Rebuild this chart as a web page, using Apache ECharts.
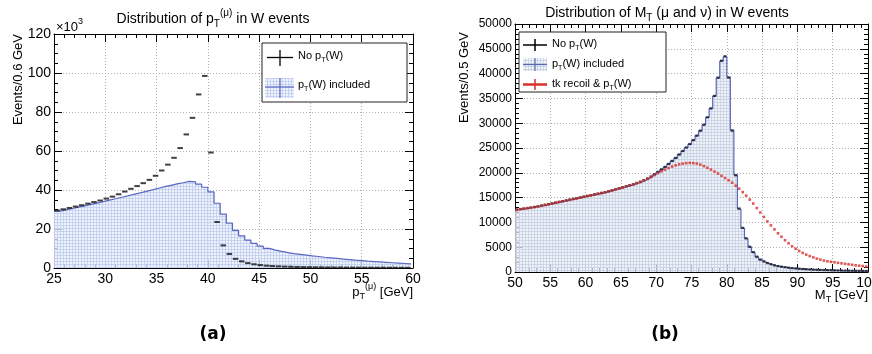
<!DOCTYPE html>
<html><head><meta charset="utf-8">
<script src="https://cdn.jsdelivr.net/npm/echarts@6/dist/echarts.min.js"></script>
<style>html,body{margin:0;padding:0;background:#fff}#c{width:872px;height:354px}</style>
</head><body><div id="c"></div>
<script>
// ---------- DATA ----------
// Panel (a): pT(mu), 0.6 GeV bins starting at 25 GeV, values in units of 10^3 events
const ptBinStart = 25, ptBinWidth = 0.6;
const ptNoW = [29.5,30.1,30.8,31.5,32.2,33.0,33.8,34.6,35.6,36.6,
  37.8,39.2,40.6,42.0,43.5,45.2,47.3,50.0,53.0,56.5,
  61.5,68.5,77.0,89.0,98.5,59.2,23.6,11.6,7.2,4.7,
  3.4,2.5,1.9,1.5,1.2,1.0,0.85,0.72,0.62,0.54,
  0.47,0.41,0.37,0.33,0.30,0.27,0.25,0.23,0.21,0.19,
  0.18,0.17,0.16,0.15,0.14,0.13,0.12,0.11];
const ptIncluded = [29.2,29.8,30.5,31.2,31.9,32.6,33.3,34.0,34.8,35.5,
  36.3,37.0,37.8,38.5,39.3,40.1,40.9,41.7,42.4,43.1,
  43.7,44.4,44.2,43.0,41.4,39.0,33.2,27.6,23.0,19.3,
  16.5,14.3,12.6,11.2,10.1,9.2,8.5,7.9,7.4,7.0,
  6.6,6.2,5.9,5.5,5.2,4.9,4.6,4.3,4.0,3.8,
  3.5,3.3,3.1,2.9,2.7,2.5,2.3,2.1];
const ptXTicks = [25,30,35,40,45,50,55,60];
const ptYTicks = [0,20,40,60,80,100,120];

// Panel (b): M_T, 0.5 GeV bins starting at 50 GeV
const mtBinStart = 50, mtBinWidth = 0.5;
const mtNoW = [12600,12700,12800,12900,13000,13100,13250,13400,13550,13700,
  13850,14000,14150,14300,14450,14600,14750,14900,15050,15200,
  15350,15500,15650,15800,15950,16100,16300,16500,16700,16900,
  17100,17300,17500,17700,17950,18200,18500,18850,19250,19700,
  20200,20700,21200,21800,22400,23000,23700,24400,25100,25800,
  26600,27500,28500,29700,31200,33000,35500,39200,42600,43500,
  39200,28500,19500,12800,8900,6800,5100,4000,3100,2500,
  2100,1800,1550,1350,1200,1070,960,870,790,720,
  660,610,560,520,480,450,420,390,370,350,
  330,310,295,280,265,250,240,230,220,210];
const mtIncluded = [12550,12650,12750,12850,12950,13100,13200,13350,13500,13650,
  13800,13950,14100,14250,14400,14550,14700,14850,15000,15150,
  15300,15450,15600,15750,15900,16050,16250,16450,16650,16850,
  17050,17250,17450,17650,17900,18150,18450,18800,19200,19650,
  20150,20650,21150,21750,22350,22950,23650,24350,25050,25750,
  26550,27450,28450,29650,31150,32950,35450,39100,42500,43400,
  39300,28600,19600,12700,8800,6700,5000,3950,3050,2450,
  2050,1750,1500,1300,1150,1030,930,840,760,700,
  640,590,540,500,465,435,405,380,360,340,
  320,300,285,270,255,245,235,225,215,205];
const mtTkRecoil = [12500,12650,12750,12850,12950,13100,13200,13350,13500,13650,
  13800,13950,14100,14250,14400,14550,14700,14850,15000,15150,
  15300,15450,15600,15750,15900,16050,16250,16450,16650,16850,
  17050,17250,17450,17650,17900,18150,18450,18800,19150,19550,
  19950,20300,20650,20950,21250,21500,21700,21850,21950,22000,
  21950,21850,21650,21350,21000,20650,20250,19850,19400,18950,
  18500,18000,17400,16800,16100,15400,14600,13800,12900,12000,
  11100,10200,9400,8600,7800,7100,6400,5800,5200,4700,
  4250,3850,3500,3200,2950,2700,2500,2300,2150,2050,
  1950,1850,1750,1650,1550,1450,1350,1270,1190,1100];
const mtXTicks = [50,55,60,65,70,75,80,85,90,95,100];
const mtYTicks = [0,5000,10000,15000,20000,25000,30000,35000,40000,45000,50000];

// ---------- helpers ----------
const FONT = '"Liberation Sans", Arial, Helvetica, sans-serif';
function centers(start, w, n){ const a=[]; for(let i=0;i<n;i++) a.push(+(start + w*(i+0.5)).toFixed(3)); return a; }
function stepData(start, w, vals){ const a=vals.map((v,i)=>[+(start+w*i).toFixed(3), v]); a.push([+(start+w*vals.length).toFixed(3), vals[vals.length-1]]); return a; }
function pointData(start, w, vals){ const c=centers(start,w,vals.length); return vals.map((v,i)=>[c[i], v]); }
function makePattern(bg, line){
  const c=document.createElement('canvas'); c.width=3; c.height=3;
  const ctx=c.getContext('2d'); ctx.fillStyle=bg; ctx.fillRect(0,0,3,3);
  ctx.fillStyle=line; ctx.fillRect(0,0,3,1); ctx.fillRect(0,0,1,3);
  return c;
}
const patA = makePattern('rgba(234,239,251,0.75)', 'rgba(190,204,238,0.8)');
const patB = makePattern('rgba(234,238,245,0.75)', 'rgba(198,207,224,0.8)');

function rich(s){ const sm=Math.round(s*0.68); const sh=Math.round(s*0.75);
  return {
    sub:{fontSize:sm, fontFamily:FONT, padding:[sh,0,0,0]},
    sup:{fontSize:sm, fontFamily:FONT, padding:[0,0,sh,0]}
  };
}
function txt(text, x, y, size, o){ o=o||{};
  return {type:'text', x:x, y:y, rotation:o.rotation||0, z:100, silent:true,
    style:{text:text, fontSize:size, fontFamily:o.family||FONT, fontWeight:o.weight||'normal',
      fill:o.color||'#000', textAlign:o.align||'left', textVerticalAlign:o.valign||'middle', rich:rich(size)}};
}
function line(x1,y1,x2,y2,color,w){ return {type:'line', z:100, silent:true, shape:{x1,y1,x2,y2}, style:{stroke:color, lineWidth:w||1}}; }
function rect(x,y,w,h,fill,stroke){ return {type:'rect', z:99, silent:true, shape:{x,y,width:w,height:h}, style:{fill:fill, stroke:stroke||null, lineWidth:1}}; }

const G0 = {left:54, top:34, width:359, height:234, outerBoundsMode:'none', containLabel:false};
const G1 = {left:515, top:24, width:353, height:248, outerBoundsMode:'none', containLabel:false};

function xAx(grid, min, max, interval, pos, labels){
  return {type:'value', gridIndex:grid, min, max, interval, position:pos,
    axisLine:{show:true, onZero:false, lineStyle:{color:'#000', width:1}},
    axisTick:{show:true, inside:true, length:8, lineStyle:{color:'#000'}},
    minorTick:{show:true, splitNumber:5, length:4, lineStyle:{color:'#000'}},
    splitLine:{show:labels, lineStyle:{color:'#b0b0b0', type:[1,2], width:1}},
    axisLabel:{show:labels, color:'#000', fontSize:14, fontFamily:FONT, margin:4, showMaxLabel:true, showMinLabel:true, hideOverlap:false, formatter:v=>String(v)}};
}
function yAx(grid, min, max, interval, pos, labels, size, minorN){
  return {type:'value', gridIndex:grid, min, max, interval, position:pos,
    axisLine:{show:true, onZero:false, lineStyle:{color:'#000', width:1}},
    axisTick:{show:true, inside:true, length:8, lineStyle:{color:'#000'}},
    minorTick:{show:true, splitNumber:minorN, length:4, lineStyle:{color:'#000'}},
    splitLine:{show:labels, lineStyle:{color:'#b0b0b0', type:[1,2], width:1}},
    axisLabel:{show:labels, color:'#000', fontSize:size, fontFamily:FONT, margin:3, formatter:v=>String(v)}};
}

const chart = echarts.init(document.getElementById('c'), null, {renderer:'canvas'});
const option = {
  animation:false,
  backgroundColor:'#fff',
  grid:[G0, G1],
  xAxis:[
    xAx(0, ptXTicks[0], ptXTicks[ptXTicks.length-1], 5, 'bottom', true),
    xAx(0, ptXTicks[0], ptXTicks[ptXTicks.length-1], 5, 'top', false),
    xAx(1, mtXTicks[0], mtXTicks[mtXTicks.length-1], 5, 'bottom', true),
    xAx(1, mtXTicks[0], mtXTicks[mtXTicks.length-1], 5, 'top', false)
  ],
  yAxis:[
    yAx(0, ptYTicks[0], ptYTicks[ptYTicks.length-1], 20, 'left', true, 14, 4),
    yAx(0, ptYTicks[0], ptYTicks[ptYTicks.length-1], 20, 'right', false, 14, 4),
    yAx(1, mtYTicks[0], mtYTicks[mtYTicks.length-1], 5000, 'left', true, 12, 5),
    yAx(1, mtYTicks[0], mtYTicks[mtYTicks.length-1], 5000, 'right', false, 12, 5)
  ],
  series:[
    {type:'line', name:'pT(W) included', xAxisIndex:0, yAxisIndex:0, step:'end', symbol:'none', clip:true,
      lineStyle:{color:'#5a68c0', width:1.2}, areaStyle:{color:{image:patA, repeat:'repeat'}, origin:'start', opacity:1},
      data:stepData(ptBinStart, ptBinWidth, ptIncluded), z:2},
    {type:'scatter', name:'No pT(W)', xAxisIndex:0, yAxisIndex:0, symbol:'rect', symbolSize:[5.5,2], clip:true,
      itemStyle:{color:'#111'}, data:pointData(ptBinStart, ptBinWidth, ptNoW), z:3},
    {type:'line', name:'pT(W) included', xAxisIndex:2, yAxisIndex:2, step:'end', symbol:'none', clip:true,
      lineStyle:{color:'#5a68b8', width:1.2}, areaStyle:{color:{image:patB, repeat:'repeat'}, origin:'start', opacity:1},
      data:stepData(mtBinStart, mtBinWidth, mtIncluded), z:2},
    {type:'scatter', name:'No pT(W)', xAxisIndex:2, yAxisIndex:2, symbol:'rect', symbolSize:[3,2.2], clip:true,
      itemStyle:{color:'#15151f'}, data:pointData(mtBinStart, mtBinWidth, mtNoW), z:3},
    {type:'scatter', name:'tk recoil & pT(W)', xAxisIndex:2, yAxisIndex:2, symbol:'rect', symbolSize:[2.6,2.6], clip:true,
      itemStyle:{color:'#d8302a'}, data:pointData(mtBinStart, mtBinWidth, mtTkRecoil), z:4}
  ],
  graphic:[
    // panel (a) texts
    txt('Distribution of p{sub|T}{sup|(μ)} in W events', 213, 19, 14, {align:'center'}),
    txt('×10{sup|3}', 56, 27, 13),
    txt('Events/0.6 GeV', 18, 34, 13, {rotation:Math.PI/2, align:'right'}),
    txt('p{sub|T}{sup|(μ)} [GeV]', 413, 292, 13, {align:'right'}),
    txt('(a)', 213, 335, 17, {align:'center', weight:'bold', family:'"DejaVu Sans", sans-serif'}),
    // legend (a)
    rect(262, 43, 145, 59, '#fff', '#222'),
    line(267, 57.5, 293, 57.5, '#000', 1.3), line(280, 50, 280, 66, '#000', 1.3),
    txt('No p{sub|T}(W)', 298, 56, 11),
    rect(265, 78, 29, 20, {image:patA, repeat:'repeat'}, null),
    line(265, 87, 294, 87, '#5a68c0', 1.2), line(280, 78, 280, 98, '#5a68c0', 1.2),
    txt('p{sub|T}(W) included', 298, 85, 11),
    // panel (b) texts
    txt('Distribution of M{sub|T} (μ and ν) in W events', 667, 13, 14, {align:'center'}),
    txt('Events/0.5 GeV', 464, 32, 13, {rotation:Math.PI/2, align:'right'}),
    txt('M{sub|T} [GeV]', 868, 295, 13, {align:'right'}),
    txt('(b)', 665, 335, 17, {align:'center', weight:'bold', family:'"DejaVu Sans", sans-serif'}),
    // legend (b)
    rect(519, 32, 147, 60, '#fff', '#222'),
    line(523, 45, 547, 45, '#000', 1.5), line(535, 39, 535, 51, '#000', 1.5),
    txt('No p{sub|T}(W)', 552, 44, 11),
    rect(523, 58, 24, 13, {image:patB, repeat:'repeat'}, null),
    line(523, 64.5, 547, 64.5, '#5a68b8', 1.2), line(535, 58, 535, 71, '#5a68b8', 1.2),
    txt('p{sub|T}(W) included', 552, 64, 11),
    line(523, 84.5, 547, 84.5, '#d8302a', 2.5), line(535, 79, 535, 90, '#d8302a', 1.5),
    txt('tk recoil & p{sub|T}(W)', 552, 84, 11)
  ]
};
chart.setOption(option);
</script></body></html>
